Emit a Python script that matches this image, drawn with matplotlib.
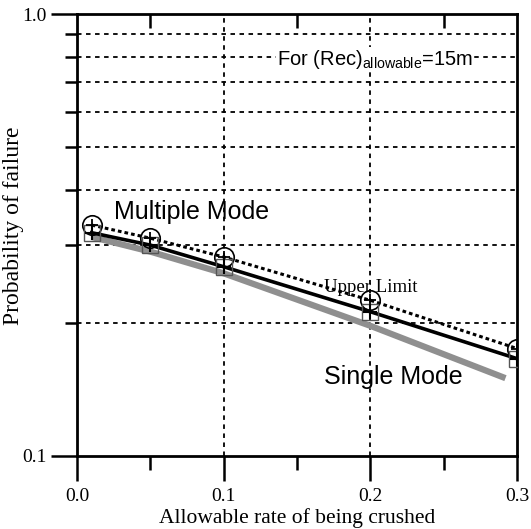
import matplotlib
matplotlib.use("Agg")
import matplotlib.pyplot as plt
from matplotlib.ticker import FixedLocator, NullFormatter, FixedFormatter

# data
x_pts = [0.01, 0.05, 0.1, 0.2, 0.3]
upper_limit = [0.333, 0.311, 0.282, 0.225, 0.175]
multiple_mode = [0.320, 0.300, 0.268, 0.212, 0.166]
single_x = [0.01, 0.05, 0.1, 0.2, 0.292]
single_mode = [0.313, 0.290, 0.259, 0.197, 0.150]

xtick_pos = [0.0, 0.1, 0.2, 0.3]
xtick_labels = ["0.0", "0.1", "0.2", "0.3"]
xminor_pos = [0.05, 0.15, 0.25]
yticks = [0.1, 1.0]
ytick_labels = ["0.1", "1.0"]
y_grid = [0.2, 0.3, 0.4, 0.5, 0.6, 0.7, 0.8, 0.9]
x_grid = [0.1, 0.2]

serif = ["Liberation Serif", "DejaVu Serif"]
sans = ["Liberation Sans", "DejaVu Sans"]

fig = plt.figure(figsize=(5.31, 5.29), dpi=100)
ax = fig.add_axes([0.145, 0.138, 0.829, 0.8355])
ax.set_yscale("log")
ax.set_xlim(0.0, 0.3)
ax.set_ylim(0.1, 1.0)

# grid
for g in y_grid:
    ax.axhline(g, color="black", lw=1.3, ls=(0, (2.5, 2.5)), zorder=1)
for g in x_grid:
    ax.axvline(g, color="black", lw=1.3, ls=(0, (2.5, 2.5)), zorder=1)

# lines
ax.plot(single_x, single_mode, color="#8f8f8f", lw=4.5, solid_capstyle="butt", zorder=2)
ax.plot(x_pts, multiple_mode, color="black", lw=2.6, zorder=3)
ax.plot(x_pts, upper_limit, color="black", lw=2.2, ls=(0, (1.2, 1.0)), zorder=3)
ax.plot(x_pts, upper_limit, ls="none", marker="o", ms=14, mfc="none", mec="black", mew=1.2, zorder=4)
ax.plot(x_pts, multiple_mode, ls="none", marker="s", ms=11, mfc="none", mec="#555555", mew=1.0, zorder=4)
ax.plot(x_pts, multiple_mode, ls="none", marker="+", ms=10, mec="black", mew=1.5, zorder=4)
ax.plot(x_pts, upper_limit, ls="none", marker="+", ms=9, mec="black", mew=1.3, zorder=4)

# texts
ax.text(0.025, 0.335, "Multiple Mode", fontsize=18, family=sans, ha="left", va="bottom")
ax.text(0.168, 0.151, "Single Mode", fontsize=18, family=sans, ha="left", va="center")
ax.text(0.168, 0.240, "Upper Limit", fontsize=13.5, family=serif, ha="left", va="center")
ax.text(0.136, 0.79, r"For (Rec)$_{\mathregular{allowable}}$=15m", fontsize=14.5, family=sans,
        ha="left", va="center",
        bbox=dict(facecolor="white", edgecolor="none", pad=0.5))

# spines
for s in ax.spines.values():
    s.set_linewidth(2.0)

# ticks
ax.xaxis.set_major_locator(FixedLocator(xtick_pos))
ax.xaxis.set_major_formatter(FixedFormatter(xtick_labels))
ax.xaxis.set_minor_locator(FixedLocator(xminor_pos))
ax.xaxis.set_minor_formatter(NullFormatter())
ax.tick_params(axis="x", which="major", direction="out", length=18, width=1.8,
               labelsize=14, pad=5, top=False)
ax.tick_params(axis="x", which="minor", direction="out", length=10, width=1.8, top=False)
for lab in ax.get_xticklabels():
    lab.set_family(serif)

ax.yaxis.set_major_locator(FixedLocator(yticks))
ax.yaxis.set_major_formatter(FixedFormatter(ytick_labels))
ax.yaxis.set_minor_locator(FixedLocator(y_grid))
ax.yaxis.set_minor_formatter(NullFormatter())
ax.tick_params(axis="y", which="major", direction="out", length=19, width=1.8, labelsize=14, pad=3)
ax.tick_params(axis="y", which="minor", direction="out", length=9, width=1.8)
for lab in ax.get_yticklabels():
    lab.set_family(serif)

# top inward ticks
sec = ax.secondary_xaxis("top")
sec.set_xticks(xminor_pos)
sec.tick_params(direction="in", length=10, width=1.8, labeltop=False)
sec.spines["top"].set_visible(False)

ax.set_xlabel("Allowable rate of being crushed", fontsize=15.5, family=serif, labelpad=2)
ax.set_ylabel("Probability of failure", fontsize=17, family=serif)
ax.yaxis.set_label_coords(-0.12, 0.52)

fig.savefig("out.png", dpi=100)
